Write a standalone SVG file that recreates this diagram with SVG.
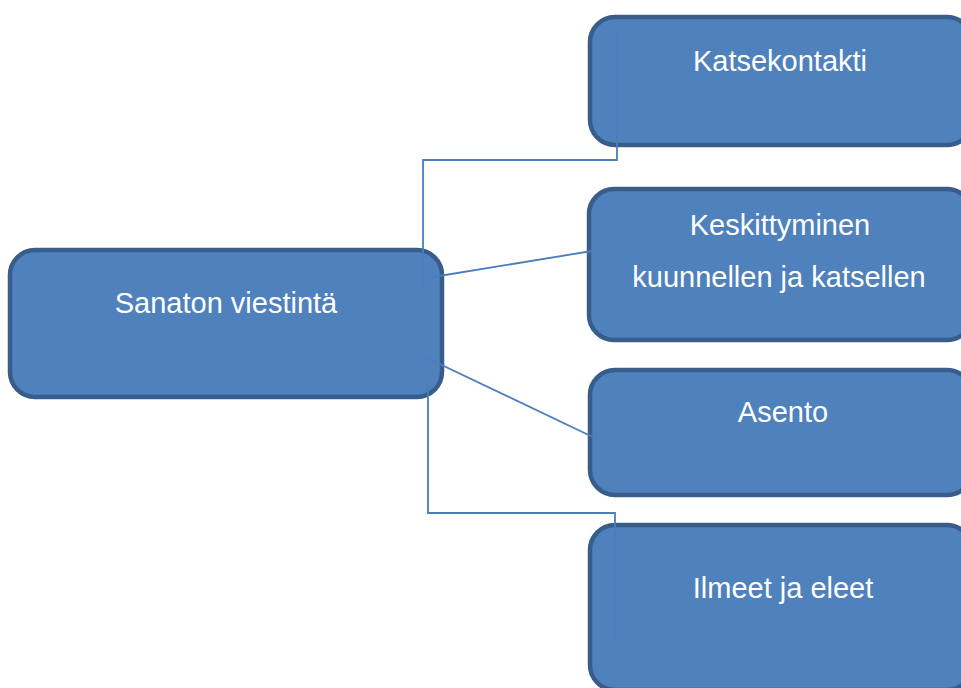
<svg xmlns="http://www.w3.org/2000/svg" width="961" height="688" viewBox="0 0 961 688">
<style>
.box{fill:#4F81BD;stroke:#385D8A;stroke-width:4.5}
.lbl{font-family:"Liberation Sans",Arial,sans-serif;font-size:29px;fill:#FFFFFF;text-anchor:middle}
.con{fill:none;stroke:#4A7EBB;stroke-width:1.8}
</style>
<rect width="961" height="688" fill="#FFFFFF"/>
<g id="node-sanaton">
<rect class="box" x="10" y="250" width="432" height="147" rx="25"/>
<text class="lbl" x="226" y="313">Sanaton viestintä</text>
</g>
<g id="node-katsekontakti">
<rect class="box" x="590" y="17" width="382" height="128" rx="25"/>
<text class="lbl" x="780" y="71">Katsekontakti</text>
</g>
<g id="node-keskittyminen">
<rect class="box" x="589" y="189" width="383" height="151" rx="25"/>
<text class="lbl" x="780" y="235">Keskittyminen</text>
<text class="lbl" x="779" y="287">kuunnellen ja katsellen</text>
</g>
<g id="node-asento">
<rect class="box" x="590" y="370" width="382" height="125" rx="25"/>
<text class="lbl" x="783" y="422">Asento</text>
</g>
<g id="node-ilmeet">
<rect class="box" x="590" y="525" width="382" height="165" rx="25"/>
<text class="lbl" x="783" y="598">Ilmeet ja eleet</text>
</g>
<g id="connectors">
<polyline class="con" points="423,289 423,160 617,160 617,32"/>
<line class="con" x1="433" y1="277" x2="592" y2="251"/>
<line class="con" x1="427" y1="358" x2="597" y2="439"/>
<polyline class="con" points="428,385 428,513 615,513 615,640"/>
</g>
</svg>
